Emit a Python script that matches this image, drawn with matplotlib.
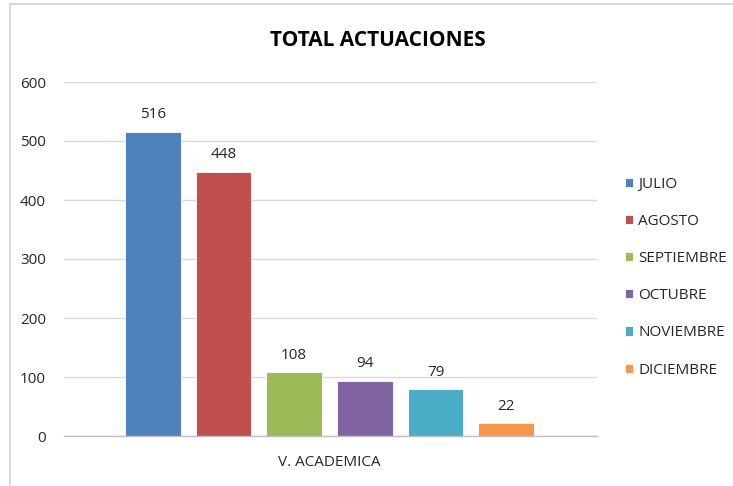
import matplotlib
matplotlib.use("Agg")
import matplotlib.pyplot as plt
from matplotlib.patches import Rectangle
from matplotlib import font_manager

months = ["JULIO", "AGOSTO", "SEPTIEMBRE", "OCTUBRE", "NOVIEMBRE", "DICIEMBRE"]
values = [516, 448, 108, 94, 79, 22]
category = "V. ACADEMICA"
title = "TOTAL ACTUACIONES"
yticks = [0, 100, 200, 300, 400, 500, 600]
colors = ["#4F81BD", "#C0504D", "#9BBB59", "#8064A2", "#4BACC6", "#F79646"]

names = {f.name for f in font_manager.fontManager.ttflist}
fam = "Liberation Sans Narrow" if "Liberation Sans Narrow" in names else "Open Sans"
plt.rcParams['font.family'] = [fam, 'DejaVu Sans']

fig = plt.figure(figsize=(7.33, 4.86), dpi=100)
fig.patches.append(Rectangle((10/733, -0.1), 1.2, 1 - 4/486 + 0.1, transform=fig.transFigure,
                             fill=False, edgecolor="#d9d9d9", linewidth=1.5))
ax = fig.add_axes([64/733, 1 - 436/486, (597 - 64)/733, (436 - 82)/486])

width = 56/71
for i, (m, v, c) in enumerate(zip(months, values, colors)):
    ax.bar(i, v, width=width, color=c, edgecolor="white", linewidth=0.6, label=m, zorder=3)
    ax.text(i, v + 16, str(v), ha="center", va="bottom", fontsize=11, color="#262626")

ax.set_xlim(-1.254, 6.282)
ax.set_ylim(0, 600)
ax.set_yticks(yticks)
ax.set_yticklabels([str(t) for t in yticks], fontsize=11, color="#262626")
ax.set_xticks([2.5])
ax.set_xticklabels([category], fontsize=11, color="#262626")
ax.tick_params(axis="both", length=0)
ax.tick_params(axis="y", pad=13)
ax.tick_params(axis="x", pad=14)
ax.grid(axis="y", color="#d9d9d9", linewidth=1, zorder=0)
for s in ["top", "right", "left"]:
    ax.spines[s].set_visible(False)
ax.spines["bottom"].set_color("#bfbfbf")
ax.spines["bottom"].set_linewidth(1)
ax.spines["bottom"].set_zorder(4)

fig.text(378/733, 1 - 41/486, title, ha="center", va="center", fontsize=15, fontweight="bold", color="black")

leg = fig.legend(loc="upper left", bbox_to_anchor=(611/733, 1 - 163/486), frameon=False,
                 fontsize=11, handlelength=0.55, handleheight=0.55, handletextpad=0.35,
                 labelspacing=1.45, labelcolor="#262626")

fig.savefig("out.png", dpi=100)
